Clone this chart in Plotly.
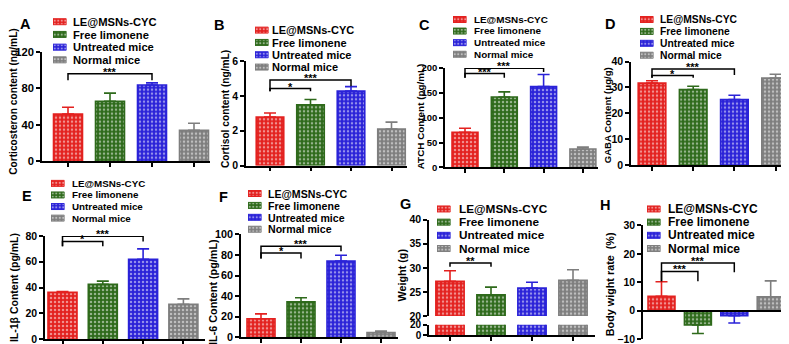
import plotly.graph_objects as go

W, H = 789, 344

# ---------------- data ----------------
groups = ["LE@MSNs-CYC", "Free limonene", "Untreated mice", "Normal mice"]
positions = [0, 1, 2, 3]

corticosterone = [51.5, 65.6, 83.4, 33.7]
corticosterone_err = [7.5, 9.0, 2.4, 7.8]
cortisol = [2.79, 3.50, 4.28, 2.10]
cortisol_err = [0.23, 0.30, 0.26, 0.40]
acth = [70.5, 141.7, 163.0, 37.0]
acth_err = [8.5, 10.3, 24.0, 4.0]
gaba = [31.7, 29.2, 25.3, 33.6]
gaba_err = [0.9, 1.3, 1.7, 1.5]
il1b = [36.3, 42.5, 62.0, 27.0]
il1b_err = [0.7, 2.5, 8.0, 4.3]
il6 = [18.0, 34.4, 74.0, 4.7]
il6_err = [4.8, 4.0, 5.7, 1.3]
weight = [27.2, 24.4, 25.8, 27.4]
weight_err = [2.2, 1.6, 1.2, 2.2]
weight_rate = [5.1, -5.0, -1.7, 4.9]
weight_rate_err = [5.1, 3.0, 2.6, 5.6]

# significance brackets: (group i, group j, bracket level, left end, right end, label)
sig_A = [(0, 2, 95.7, 88.7, 88.7, "***")]
sig_B = [(0, 1, 4.43, 4.28, 4.28, "*"), (0, 2, 4.93, 4.28, 4.56, "***")]
sig_C = [(0, 1, 189, 180.6, 180.6, "***"), (0, 2, 199.5, 180.6, 192, "***")]
sig_D = [(0, 1, 34.6, 33.8, 33.8, "*"), (0, 2, 37.1, 33.8, 34.8, "***")]
sig_E = [(0, 1, 75.8, 72, 72, "*"), (0, 2, 79.7, 72, 75.8, "***")]
sig_F = [(0, 1, 81.8, 76.6, 76.6, "*"), (0, 2, 88.4, 76.6, 83.5, "***")]
sig_G = [(0, 1, 31.0, 30.2, 30.2, "**")]
sig_H = [(0, 1, 13.8, 10.4, 10.4, "***"), (0, 2, 16.8, 10.4, 13.5, "***")]

# ---------------- styling ----------------
colors = ["#E3211F", "#2E6A1B", "#2A22D8", "#7E7E7E"]
FONT = "Arial, 'Liberation Sans', Helvetica, sans-serif"

def fx(p):
    return p / W

def fy(p):
    return 1 - p / H

panels = [
    dict(n=1, letter="A", vals=corticosterone, errs=corticosterone_err, sig=sig_A,
         yr=[0, 120], tv=[0, 40, 80, 120], xpix=(34, 202), ypix=(39, 152.5),
         c0=60, step=42, bw=0.69, ytitle="Corticosteron content (ng/mL)", tx=6, ty=91, tfs=10.2,
         lx=17, ly=10, sw=45, txt=63, rows=[8, 21.5, 34.5, 47.5], lfs=11.2, kfs=11.2, xticks=True),
    dict(n=2, letter="B", vals=cortisol, errs=cortisol_err, sig=sig_B,
         yr=[0, 6], tv=[0, 2, 4, 6], xpix=(238, 399), ypix=(49, 157),
         c0=262, step=40.5, bw=0.68, ytitle="Cortisol content (ng/mL)", tx=217.5, ty=99, tfs=10.2,
         lx=211, ly=11, sw=247, txt=262, rows=[16.7, 29.6, 42.5, 55], lfs=11, kfs=10.5, xticks=True),
    dict(n=3, letter="C", vals=acth, errs=acth_err, sig=sig_C,
         yr=[0, 200], tv=[0, 50, 100, 150, 200], xpix=(437, 590), ypix=(56, 159),
         c0=457, step=39.3, bw=0.66, ytitle="ATCH Content (pg/mL)", tx=412, ty=106, tfs=9.9,
         lx=416, ly=11, sw=445, txt=464, rows=[5.7, 17.6, 29.7, 41.7], lfs=9.9, kfs=9.5, xticks=True),
    dict(n=4, letter="D", vals=gaba, errs=gaba_err, sig=sig_D,
         yr=[0, 40], tv=[0, 10, 20, 30, 40], xpix=(623, 787), ypix=(49.3, 156.7),
         c0=644, step=41.2, bw=0.67, ytitle="GABA Content (μg/g)", tx=599, ty=105, tfs=9.6,
         lx=602, ly=10, sw=632, txt=650, rows=[5.7, 17.9, 30.3, 42.7], lfs=10.3, kfs=10.5, xticks=True),
    dict(n=5, letter="E", vals=il1b, errs=il1b_err, sig=sig_E,
         yr=[0, 80], tv=[0, 20, 40, 60, 80], xpix=(37, 197), ypix=(230, 337),
         c0=54.5, step=40.3, bw=0.72, ytitle="IL-1β Content (pg/mL)", tx=6, ty=284, tfs=10.5,
         lx=18.5, ly=189, sw=43, txt=62, rows=[175.5, 187.5, 199.5, 211.5], lfs=9.8, kfs=10.5, xticks=True),
    dict(n=6, letter="F", vals=il6, errs=il6_err, sig=sig_F,
         yr=[0, 100], tv=[0, 20, 40, 60, 80, 100], xpix=(233, 390), ypix=(228.3, 335),
         c0=253, step=40, bw=0.7, ytitle="IL-6 Content (pg/mL)", tx=205, ty=288, tfs=10.8,
         lx=215, ly=190, sw=240, txt=258, rows=[186, 198.5, 211, 223], lfs=10.6, kfs=10.8, xticks=True),
    dict(n=7, letter="G", vals=weight, errs=weight_err, sig=sig_G,
         yr=[20, 40], tv=[20, 25, 30, 35, 40], xpix=(421, 587), ypix=(213, 313),
         c0=442, step=41, bw=0.69, ytitle="Weight (g)", tx=394, ty=271, tfs=10.8,
         lx=397, ly=197, sw=429, txt=449, rows=[202, 215.5, 229, 243], lfs=11.8, kfs=10.5, xticks=True),
    dict(n=8, letter="H", vals=weight_rate, errs=weight_rate_err, sig=sig_H,
         yr=[-10, 30], tv=[-10, 0, 10, 20, 30], xpix=(635, 781), ypix=(219, 337),
         c0=653.5, step=36.4, bw=0.74, ytitle="Body wight rate\u00a0 (%)", tx=602, ty=280, tfs=10.8,
         lx=597, ly=198, sw=639, txt=658, rows=[202, 215.5, 229, 243], lfs=12, kfs=10.5, xticks=False),
]

G_LOWER = dict(n=9, yr=[0, 20], tv=[0, 20], ypix=(322, 333))

def ax(prefix, n):
    return prefix + ("" if n == 1 else str(n))

fig = go.Figure()
layout = dict(width=W, height=H, margin=dict(l=0, r=0, t=0, b=0),
              paper_bgcolor="white", plot_bgcolor="rgba(0,0,0,0)",
              barmode="overlay", showlegend=False,
              font=dict(family=FONT, color="black", size=11))
shapes = []
annotations = []

AXLINE = dict(showline=True, linecolor="black", linewidth=1.6, showgrid=False,
              zeroline=False, ticks="outside", ticklen=4, tickwidth=1.6, tickcolor="black")

PATTERN = dict(shape=".", fgcolor="white", size=4, solidity=0.3)


def add_bars(p, yaxis_n, with_err=True):
    n = p["n"]
    for i, (v, e) in enumerate(zip(p["vals"], p["errs"])):
        col = colors[i]
        err = None
        if with_err:
            if v >= 0:
                err = dict(type="data", symmetric=False, array=[e], arrayminus=[0],
                           color=col, thickness=1.6, width=6)
            else:
                err = dict(type="data", symmetric=False, array=[0], arrayminus=[e],
                           color=col, thickness=1.6, width=6)
        fig.add_trace(go.Bar(
            x=[positions[i]], y=[v], width=p["bw"], name=groups[i],
            marker=dict(color=col, line=dict(color=col, width=1.6),
                        pattern=dict(PATTERN, bgcolor=col)),
            error_y=err, xaxis=ax("x", n), yaxis=ax("y", yaxis_n), showlegend=False,
        ))


for p in panels:
    n = p["n"]
    xl, xr = p["xpix"]
    yt, yb = p["ypix"]
    xrange = [-(p["c0"] - xl) / p["step"], (xr - p["c0"]) / p["step"]]

    add_bars(p, n)
    if n == 7:
        add_bars(p, 9, with_err=False)

    xa = dict(AXLINE, domain=[fx(xl), fx(xr)], range=xrange, tickvals=positions,
              showticklabels=False, fixedrange=True)
    if not p["xticks"]:
        xa["ticks"] = ""
    if n == 7:
        xa["anchor"] = "y9"
    elif n == 8:
        frac = (0 - p["yr"][0]) / (p["yr"][1] - p["yr"][0])
        xa["anchor"] = "free"
        xa["position"] = fy(yb) + frac * (fy(yt) - fy(yb))
    else:
        xa["anchor"] = ax("y", n)
    layout[ax("xaxis", n)] = xa

    layout[ax("yaxis", n)] = dict(AXLINE, domain=[fy(yb), fy(yt)], range=p["yr"],
                                  tickvals=p["tv"], anchor=ax("x", n), fixedrange=True,
                                  tickfont=dict(size=p["kfs"], weight="bold", family=FONT))

    # significance brackets
    for (i, j, yl, ya, yb2, lab) in p["sig"]:
        shapes.append(dict(type="path", xref=ax("x", n), yref=ax("y", n),
                           path=f"M {i},{ya} L {i},{yl} L {j},{yl} L {j},{yb2}",
                           line=dict(color="black", width=1.5)))
        annotations.append(dict(x=(i + j) / 2, y=yl, xref=ax("x", n), yref=ax("y", n),
                                text=lab, showarrow=False, yanchor="bottom", yshift=-6,
                                font=dict(size=11, weight="bold", family=FONT)))

    # y title
    annotations.append(dict(x=fx(p["tx"]), y=fy(p["ty"]), xref="paper", yref="paper",
                            text=p["ytitle"], textangle=-90, showarrow=False,
                            xanchor="center", yanchor="middle",
                            font=dict(size=p["tfs"], weight="bold", family=FONT)))
    # panel letter
    annotations.append(dict(x=fx(p["lx"]), y=fy(p["ly"]), xref="paper", yref="paper",
                            text=p["letter"], showarrow=False, xanchor="center", yanchor="middle",
                            font=dict(size=14.5, weight="bold", family=FONT)))

    # legend: swatches drawn as patterned bars on a small hidden axis, text as annotations
    rows = p["rows"]
    sp = (rows[-1] - rows[0]) / 3
    ln = 9 + n
    top_px = max(0.0, rows[0] - sp / 2)
    bot_px = min(float(H), rows[-1] + sp / 2)
    fig.add_trace(go.Bar(
        x=[1, 1, 1, 1], y=positions, orientation="h", width=6.2 / sp,
        marker=dict(color=colors, line=dict(color=colors, width=1),
                    pattern=dict(PATTERN, bgcolor=colors, size=3.5)),
        xaxis=ax("x", ln), yaxis=ax("y", ln), showlegend=False, hoverinfo="skip"))
    layout[ax("xaxis", ln)] = dict(domain=[fx(p["sw"]), fx(p["sw"] + 13.5)], range=[0, 1],
                                   visible=False, anchor=ax("y", ln), fixedrange=True)
    layout[ax("yaxis", ln)] = dict(domain=[fy(bot_px), fy(top_px)],
                                   range=[(bot_px - rows[0]) / sp, (top_px - rows[0]) / sp],
                                   visible=False, anchor=ax("x", ln), fixedrange=True)
    for g, r in zip(groups, rows):
        annotations.append(dict(x=fx(p["txt"]), y=fy(r), xref="paper", yref="paper",
                                text=g, showarrow=False, xanchor="left", yanchor="middle",
                                font=dict(size=p["lfs"], weight="bold", family=FONT)))

# lower (broken) segment of the G weight axis
layout["yaxis9"] = dict(AXLINE, domain=[fy(G_LOWER["ypix"][1]), fy(G_LOWER["ypix"][0])],
                        range=G_LOWER["yr"], tickvals=G_LOWER["tv"], anchor="x7", fixedrange=True,
                        tickfont=dict(size=10, weight="bold", family=FONT))

layout["shapes"] = shapes
layout["annotations"] = annotations
fig.update_layout(**layout)
fig.write_html("out.html")
